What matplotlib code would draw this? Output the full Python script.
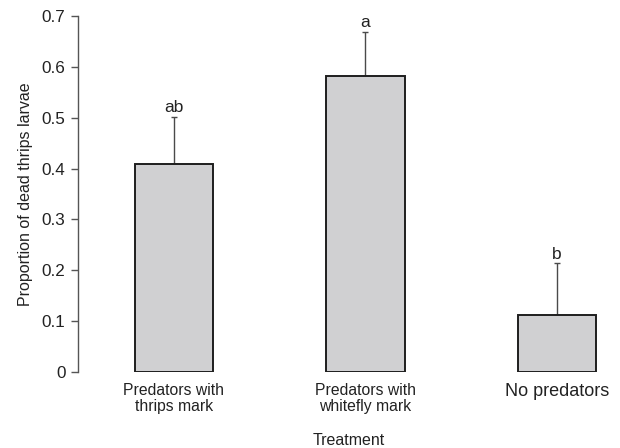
import matplotlib
matplotlib.use("Agg")
import matplotlib.pyplot as plt
import numpy as np

plt.rcParams['font.family'] = ['Liberation Sans', 'DejaVu Sans']

# Mortality of thrips larvae by treatment
treatments = ['Predators with\nthrips mark', 'Predators with\nwhitefly mark', 'No predators']
proportion_dead = [0.409, 0.582, 0.111]
se_upper = [0.093, 0.087, 0.103]
group_letters = ['ab', 'a', 'b']

fig = plt.figure(figsize=(6.2, 4.48), dpi=100)
ax = fig.add_axes([0.126, 0.170, 0.874, 0.794])

x = np.arange(len(treatments))
ax.bar(x, proportion_dead, width=0.41, color='#d0d0d2', edgecolor='#1e1e1e',
       linewidth=1.4, zorder=2)
ax.errorbar(x, proportion_dead, yerr=[np.zeros(len(x)), se_upper], fmt='none',
            ecolor='#4a4a4a', elinewidth=1.0, capsize=2.5, capthick=1.0, zorder=1)

for xi, v, e, lab in zip(x, proportion_dead, se_upper, group_letters):
    ax.text(xi, v + e + 0.003, lab, ha='center', va='bottom', fontsize=12.5, color='#222222')

ax.set_xlim(-0.5, 2.33)
ax.set_ylim(0, 0.7)
ax.set_yticks(np.arange(0, 0.71, 0.1))
ax.set_yticklabels(['0', '0.1', '0.2', '0.3', '0.4', '0.5', '0.6', '0.7'])
ax.set_xticks(x)
ax.set_xticklabels(treatments, fontsize=11.3, linespacing=1.05)
ax.get_xticklabels()[2].set_fontsize(13)

for s in ['top', 'right', 'bottom']:
    ax.spines[s].set_visible(False)
ax.spines['left'].set_color('#555555')
ax.spines['left'].set_linewidth(1.0)
ax.tick_params(axis='y', length=5, width=1.0, color='#555555', labelsize=12.3,
               labelcolor='#222222', pad=4)
ax.tick_params(axis='x', length=0, pad=8, labelcolor='#222222')

ax.set_ylabel('Proportion of dead thrips larvae', fontsize=11.5, color='#222222', labelpad=6)
ax.set_xlabel('Treatment', fontsize=11.5, color='#222222', labelpad=14)

fig.savefig('out.png', dpi=100)
